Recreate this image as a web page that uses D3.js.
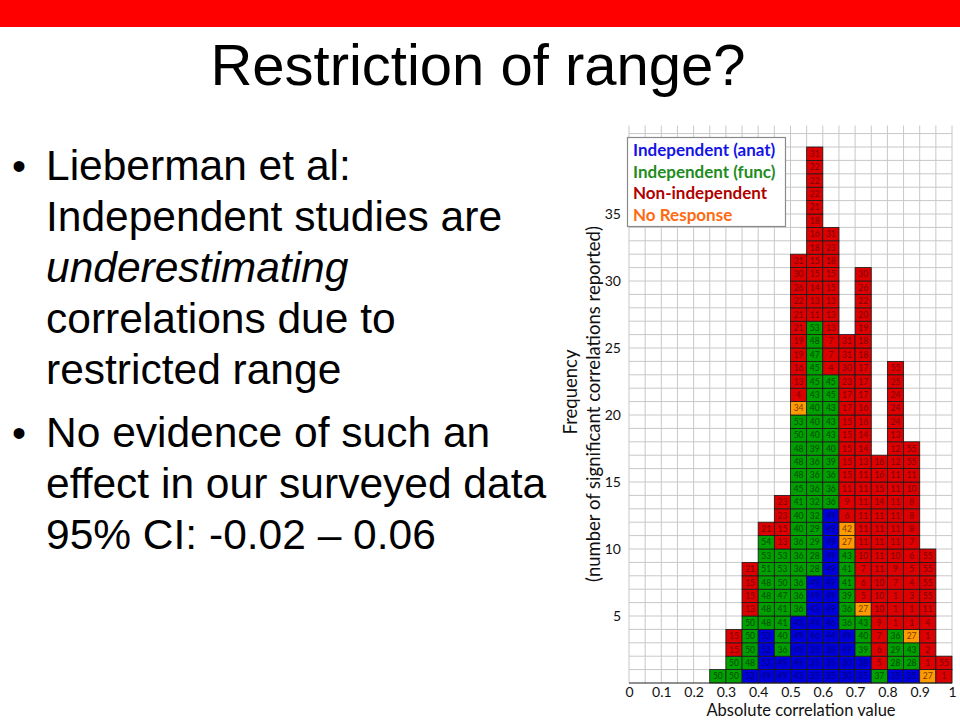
<!DOCTYPE html>
<html lang="en">
<head>
<meta charset="utf-8">
<title>Restriction of range?</title>
<script src="https://cdn.jsdelivr.net/npm/d3@7"></script>
<style>
  body { margin: 0; background: #fff; }
  svg { display: block; }
</style>
</head>
<body>
<div id="chart"></div>
<script>

// bin start of every column (width 0.05)
var binStarts = [0.25, 0.30, 0.35, 0.40, 0.45, 0.50, 0.55, 0.60, 0.65, 0.70, 0.75, 0.80, 0.85, 0.90, 0.95];

// group of every cell, bottom to top (B = anat, G = func, R = non-independent, O = no response)
var cellGroups = [
  "G",
  "GGRR",
  "BGGGGRRRR",
  "BBBBGGGGGGGR",
  "BBGGGGGGGGRRRR",
  "BBBBBGGGGGGGGGGGGGGGORRRRRRRRRRR",
  "BBBBBBBBGGGGGGGGGGGGGGGGGGGRRRRRRRRRRRRR",
  "BBBBBBBBBBBBBGGGGGGGGGGRRRRRRRRRRR",
  "BBBBGGGGGGOORRRRRRRRRRRRRR",
  "BBGGGORRRRRRRRRRRRRRRRRRRRRRRRR",
  "GRRRRRRRRRRRRRRRR",
  "BGGGRRRRRRRRRRRRRRRRRRRR",
  "BGGORRRRRRRRRRRRRR",
  "ORRRRRRRRR",
  "RR"
];

// study number written in every cell, bottom to top
var cellIds = [
  [50],
  [50, 50, 15, 15],
  [52, 48, 50, 50, 50, 13, 15, 15, 21],
  [49, 52, 52, 52, 48, 48, 48, 48, 51, 53, 54, 21],
  [49, 49, 36, 40, 41, 41, 47, 50, 53, 53, 13, 15, 23, 23],
  [43, 49, 49, 49, 43, 36, 36, 36, 36, 36, 36, 40, 40, 41, 45, 48, 48, 48, 50, 53, 34, 4, 13, 16, 19, 19, 21, 21, 22, 26, 30, 31],
  [35, 35, 35, 46, 49, 43, 49, 49, 28, 28, 29, 29, 32, 32, 36, 36, 36, 39, 40, 40, 40, 43, 45, 45, 47, 48, 53, 11, 13, 14, 15, 15, 18, 16, 18, 21, 22, 22, 22, 31],
  [35, 35, 38, 44, 46, 49, 49, 49, 49, 49, 49, 49, 49, 36, 36, 36, 39, 40, 43, 43, 43, 45, 45, 4, 7, 7, 13, 13, 13, 15, 15, 18, 23, 31],
  [30, 30, 49, 49, 36, 36, 39, 41, 41, 43, 27, 42, 6, 9, 11, 15, 15, 15, 15, 15, 17, 17, 23, 30, 31, 31],
  [35, 38, 39, 40, 43, 27, 5, 6, 7, 10, 11, 11, 11, 11, 11, 11, 13, 14, 14, 16, 16, 17, 17, 17, 18, 18, 19, 20, 22, 26, 30],
  [37, 5, 6, 7, 9, 10, 10, 10, 11, 11, 11, 11, 11, 14, 15, 16, 16],
  [35, 28, 29, 36, 1, 1, 1, 7, 9, 10, 11, 11, 11, 11, 11, 11, 12, 12, 13, 24, 24, 24, 25, 55],
  [35, 28, 43, 27, 1, 1, 3, 4, 5, 6, 7, 8, 8, 8, 10, 11, 55, 55],
  [27, 1, 2, 1, 4, 11, 55, 55, 55, 55],
  [1, 55]
];

var groupKeys = ["B", "G", "R", "O"];
var groupNames = ["Independent (anat)", "Independent (func)", "Non-independent", "No Response"];

var xTicks = [0, 0.1, 0.2, 0.3, 0.4, 0.5, 0.6, 0.7, 0.8, 0.9, 1];
var yTicks = [5, 10, 15, 20, 25, 30, 35];

var fillColor = d3.scaleOrdinal().domain(groupKeys).range(["#0000dc", "#00a000", "#dc0000", "#ff9a00"]);
var textColor = d3.scaleOrdinal().domain(groupKeys).range(["#00007a", "#004a00", "#7a0000", "#7a3c00"]);
var legendColor = d3.scaleOrdinal().domain(groupKeys).range(["#1414e6", "#1e8c1e", "#b00000", "#ff6a10"]);

var W = 960, H = 720;
var svg = d3.select("#chart").append("svg").attr("width", W).attr("height", H);

// red band at the top of the slide
svg.append("rect").attr("x", 0).attr("y", 0).attr("width", W).attr("height", 27).attr("fill", "#ff0000");

svg.append("text")
  .attr("x", 478).attr("y", 85)
  .attr("text-anchor", "middle")
  .style("font-family", "'Liberation Sans', Arial, sans-serif")
  .style("font-size", "58px")
  .text("Restriction of range?");

// bullet text
var bullets = [
  { y: 180, lines: [["Lieberman et al:"], ["Independent studies are"], ["underestimating", "italic"], ["correlations due to"], ["restricted range"]] },
  { y: 447, lines: [["No evidence of such an"], ["effect in our surveyed data"], ["95% CI: -0.02 \u2013 0.06"]] }
];
bullets.forEach(function(b) {
  svg.append("text")
    .attr("x", 12).attr("y", b.y)
    .style("font-family", "'Liberation Sans', Arial, sans-serif")
    .style("font-size", "40px")
    .text("\u2022");
  b.lines.forEach(function(l, i) {
    svg.append("text")
      .attr("x", 46).attr("y", b.y + i * 51)
      .style("font-family", "'Liberation Sans', Arial, sans-serif")
      .style("font-size", "42.5px")
      .style("font-style", l[1] || "normal")
      .text(l[0]);
  });
});

// chart
var x = d3.scaleLinear().domain([0, 1]).range([629, 952]);
var y = d3.scaleLinear().domain([0, 41]).range([683, 133.6]);
var cw = x(0.05) - x(0);
var ch = y(0) - y(1);

var grid = svg.append("g");
grid.selectAll("line.v")
  .data(d3.range(0, 21))
  .enter().append("line")
    .attr("x1", function(d) { return x(d * 0.05); })
    .attr("x2", function(d) { return x(d * 0.05); })
    .attr("y1", y(0)).attr("y2", y(41.6))
    .attr("stroke", "#c8c8c8").attr("stroke-width", 1);
grid.selectAll("line.h")
  .data(d3.range(1, 42))
  .enter().append("line")
    .attr("x1", x(0)).attr("x2", x(1))
    .attr("y1", function(d) { return y(d); })
    .attr("y2", function(d) { return y(d); })
    .attr("stroke", "#c8c8c8").attr("stroke-width", 1);

// flatten the cells
var cells = [];
binStarts.forEach(function(b, i) {
  cellGroups[i].split("").forEach(function(g, j) {
    cells.push({ bin: b, row: j, group: g, id: cellIds[i][j] });
  });
});

var cell = svg.append("g").selectAll("g")
  .data(cells)
  .enter().append("g");

cell.append("rect")
  .attr("x", function(d) { return x(d.bin); })
  .attr("y", function(d) { return y(d.row + 1); })
  .attr("width", cw)
  .attr("height", ch)
  .attr("fill", function(d) { return fillColor(d.group); })
  .attr("stroke", "#1a1a1a")
  .attr("stroke-width", 0.8);

cell.append("text")
  .attr("x", function(d) { return x(d.bin + 0.025); })
  .attr("y", function(d) { return y(d.row + 0.5) + 3; })
  .attr("text-anchor", "middle")
  .style("font-family", "Lato, sans-serif")
  .style("font-size", "8.5px")
  .attr("fill", function(d) { return textColor(d.group); })
  .text(function(d) { return d.id; });

// x axis
svg.append("line")
  .attr("x1", x(0)).attr("x2", x(1))
  .attr("y1", y(0)).attr("y2", y(0))
  .attr("stroke", "#222").attr("stroke-width", 1.2);

var xAxis = svg.append("g")
  .attr("transform", "translate(0," + (y(0) + 1) + ")")
  .call(d3.axisBottom(x).tickValues(xTicks).tickSize(0).tickFormat(d3.format("")));
xAxis.select(".domain").remove();
xAxis.selectAll("text")
  .style("font-family", "Lato, sans-serif")
  .style("font-size", "14px")
  .attr("fill", "#111");

var yAxis = svg.append("g")
  .attr("transform", "translate(" + (x(0) - 5) + ",0)")
  .call(d3.axisLeft(y).tickValues(yTicks).tickSize(0));
yAxis.select(".domain").remove();
yAxis.selectAll("text")
  .style("font-family", "Lato, sans-serif")
  .style("font-size", "14px")
  .attr("fill", "#111");

svg.append("text")
  .attr("x", 801).attr("y", 716)
  .attr("text-anchor", "middle")
  .style("font-family", "Lato, sans-serif")
  .style("font-size", "16.5px")
  .attr("fill", "#111")
  .text("Absolute correlation value");

// y axis title, two lines
svg.append("text")
  .attr("transform", "translate(577,392) rotate(-90)")
  .attr("text-anchor", "middle")
  .style("font-family", "Lato, sans-serif")
  .style("font-size", "18.5px")
  .attr("fill", "#111")
  .text("Frequency");
svg.append("text")
  .attr("transform", "translate(600,404) rotate(-90)")
  .attr("text-anchor", "middle")
  .style("font-family", "Lato, sans-serif")
  .style("font-size", "18.5px")
  .attr("fill", "#111")
  .text("(number of significant correlations reported)");

// legend
var legend = svg.append("g");
legend.append("rect")
  .attr("x", 627.5).attr("y", 137.5)
  .attr("width", 158).attr("height", 89)
  .attr("fill", "#fff").attr("stroke", "#8a8a8a").attr("stroke-width", 1.2);
legend.selectAll("text")
  .data(groupKeys)
  .enter().append("text")
    .attr("x", 633)
    .attr("y", function(d, i) { return 156 + i * 21.5; })
    .style("font-family", "Lato, sans-serif")
    .style("font-size", "17px")
    .style("font-weight", "bold")
    .attr("fill", function(d) { return legendColor(d); })
    .text(function(d, i) { return groupNames[i]; });

</script>
</body>
</html>
